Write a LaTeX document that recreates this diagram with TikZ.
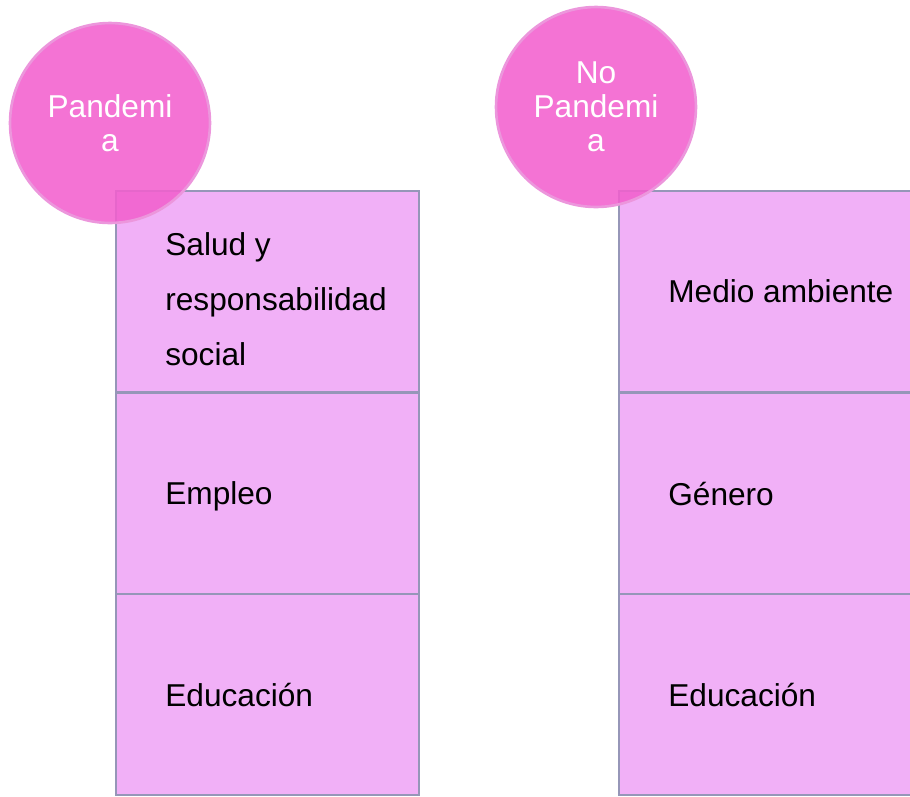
\documentclass[tikz,border=0pt]{standalone}
\usepackage{fontspec}
\setmainfont{Liberation Sans}
\usetikzlibrary{positioning}
\definecolor{cajafondo}{RGB}{241,176,247}
\definecolor{cajaborde}{RGB}{150,150,184}
\definecolor{bola}{RGB}{242,96,206}
\definecolor{bolaborde}{RGB}{236,150,220}
\tikzset{
  caja/.style={draw=cajaborde, fill=cajafondo, line width=1pt, minimum width=6.06cm, minimum height=4.03cm, anchor=north west, inner sep=0pt},
  texto/.style={anchor=west, align=left, font=\fontsize{18}{31.3}\selectfont, inner sep=0pt},
  bolita/.style={circle, fill=bola, fill opacity=0.88, text opacity=1, draw=bolaborde, line width=1.5pt, minimum size=4cm, inner sep=0pt, text=white, align=center, font=\fontsize{18}{19.5}\selectfont}
}

\begin{document}
\begin{tikzpicture}[x=0.02cm, y=-0.02cm]
\useasboundingbox (0,0) rectangle (910,796);
\clip (0,0) rectangle (910,796);
\node[caja] (salud) at (115,190) {};
\node[caja] (empleo) at (115,392) {};
\node[caja] (educa) at (115,593) {};
\node[caja] (medio) at (618,190) {};
\node[caja] (genero) at (618,392) {};
\node[caja] (educb) at (618,593) {};
\node[texto, right=1cm of salud.west, yshift=-0.16cm] (tsalud) {Salud y\\responsabilidad\\social};
\node[texto, right=1cm of empleo.west, yshift=-0.06cm] (templeo) {Empleo};
\node[texto, right=1cm of educa.west] (teduca) {Educación};
\node[texto, right=1cm of medio.west] (tmedio) {Medio ambiente};
\node[texto, right=1cm of genero.west] (tgenero) {Género};
\node[texto, right=1cm of educb.west] (teducb) {Educación};
\node[bolita] (pandemia) at (110,123) {Pandemi\\a};
\node[bolita] (nopandemia) at (596,107) {No\\Pandemi\\a};
\end{tikzpicture}
\end{document}
